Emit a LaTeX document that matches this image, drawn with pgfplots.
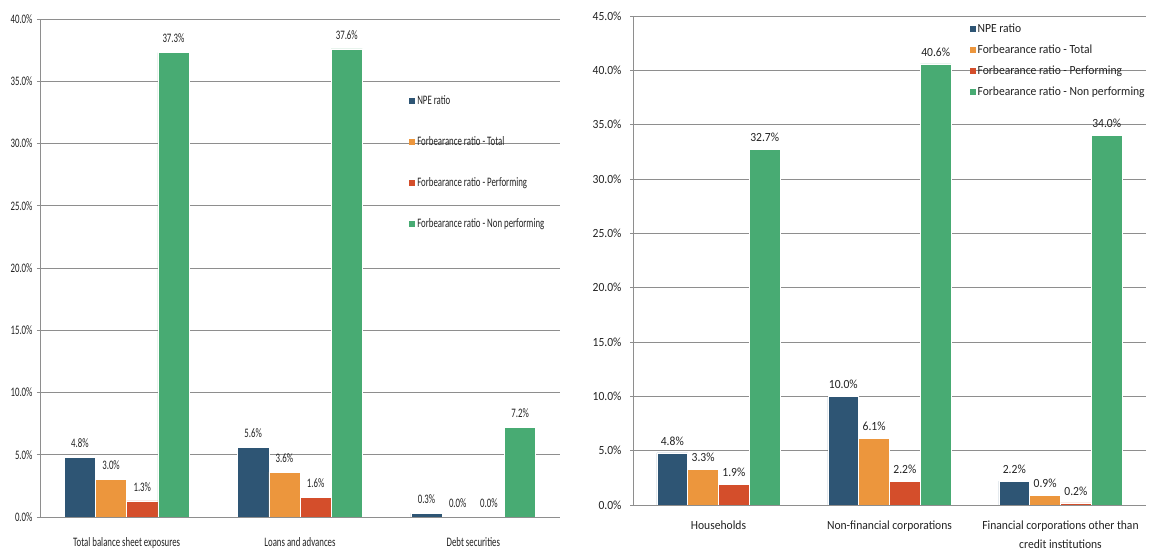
\documentclass[border=0pt]{standalone}
\usepackage{fontspec}
\setmainfont{Carlito}
\newfontfamily\condfont[FakeStretch=0.68]{Carlito}
\newfontfamily\rfont[FakeStretch=0.93]{Carlito}
\usepackage{pgfplots}
\pgfplotsset{compat=1.18}
\definecolor{cnpe}{HTML}{2E5574}
\definecolor{ctot}{HTML}{EC963D}
\definecolor{cperf}{HTML}{D44E2B}
\definecolor{cnon}{HTML}{48AB73}
\definecolor{cgrid}{HTML}{8E8E8E}
\definecolor{ctext}{HTML}{222222}
\pgfplotsset{
  /pgf/number format/assume math mode=true,
  mybars/.style={
    ybar, scale only axis, xmin=-0.5, xmax=2.5, ymin=0,
    xtick={0,1,2},
    major x tick style={draw=none},
    extra x ticks={-0.5,0.5,1.5,2.5},
    extra x tick labels={},
    extra x tick style={major tick length=7bp, tick align=outside, tick style={draw=cgrid, line width=0.8bp}},
    ymajorgrids, grid style={cgrid, line width=0.9bp},
    axis x line*=bottom, axis y line*=left,
    axis line style={cgrid, line width=0.9bp, -},
    ytick distance=5,
    major y tick style={draw=cgrid, line width=0.8bp},
    major tick length=3bp, tick align=outside,
    yticklabel={\pgfmathprintnumber[fixed,fixed zerofill,precision=1]{\tick}\%},
    bar width=0.18,
    nodes near coords={\pgfmathprintnumber[fixed,fixed zerofill,precision=1]{\pgfplotspointmeta}\%},
    every node near coord/.append style={text=ctext},
    ticklabel style={text=ctext},
    legend style={draw=none, fill=none, text=ctext},
    legend cell align=left,
    legend image code/.code={\fill[#1,draw=none] (0bp,-3bp) rectangle (6bp,3bp);},
  },
  s1/.style={fill=cnpe, draw=white, line width=0.6bp, bar shift=-0.27},
  s2/.style={fill=ctot, draw=white, line width=0.6bp, bar shift=-0.09},
  s3/.style={fill=cperf, draw=white, line width=0.6bp, bar shift=0.09},
  s4/.style={fill=cnon, draw=white, line width=0.6bp, bar shift=0.27},
}
\begin{document}
\begin{tikzpicture}
\path[use as bounding box] (0,0) rectangle (1157bp,551bp);
% Left panel
\begin{axis}[mybars,
  at={(40bp,34bp)}, anchor=south west, width=520bp, height=498bp,
  ymax=40,
  xticklabels={Total balance sheet exposures, Loans and advances, Debt securities},
  xticklabel style={font=\condfont\fontsize{13}{15}\selectfont, yshift=-14bp},
  yticklabel style={font=\condfont\fontsize{13}{15}\selectfont, xshift=-1bp},
  every node near coord/.append style={font=\condfont\fontsize{13}{15}\selectfont, yshift=6bp},
  legend style={at={(0.704,0.855)}, anchor=north west, font=\condfont\fontsize{13}{15}\selectfont, row sep=26.5bp},
]
\addplot[s1] coordinates {(0,4.8) (1,5.6) (2,0.3)};
\addplot[s2] coordinates {(0,3.0) (1,3.6) (2,0.0)};
\addplot[s3] coordinates {(0,1.3) (1,1.6) (2,0.0)};
\addplot[s4] coordinates {(0,37.3) (1,37.6) (2,7.2)};
\legend{NPE ratio, Forbearance ratio - Total, Forbearance ratio - Performing, Forbearance ratio - Non performing}
\end{axis}
% Right panel
\begin{axis}[mybars,
  at={(633bp,46bp)}, anchor=south west, width=513bp, height=489bp,
  ymax=45,
  xticklabels={Households, Non-financial corporations, {Financial corporations other than\\credit institutions}},
  xticklabel style={font=\rfont\fontsize{12.5}{19}\selectfont, align=center, yshift=-9bp},
  yticklabel style={font=\rfont\fontsize{12.5}{15}\selectfont, xshift=-5bp},
  every node near coord/.append style={font=\rfont\fontsize{12.5}{15}\selectfont, yshift=4bp},
  legend style={at={(0.650,0.993)}, anchor=north west, font=\rfont\fontsize{12.5}{15}\selectfont, row sep=7bp},
]
\addplot[s1] coordinates {(0,4.8) (1,10.0) (2,2.2)};
\addplot[s2] coordinates {(0,3.3) (1,6.1) (2,0.9)};
\addplot[s3] coordinates {(0,1.9) (1,2.2) (2,0.2)};
\addplot[s4] coordinates {(0,32.7) (1,40.6) (2,34.0)};
\legend{NPE ratio, Forbearance ratio - Total, Forbearance ratio - Performing, Forbearance ratio - Non performing}
\end{axis}
\end{tikzpicture}
\end{document}
